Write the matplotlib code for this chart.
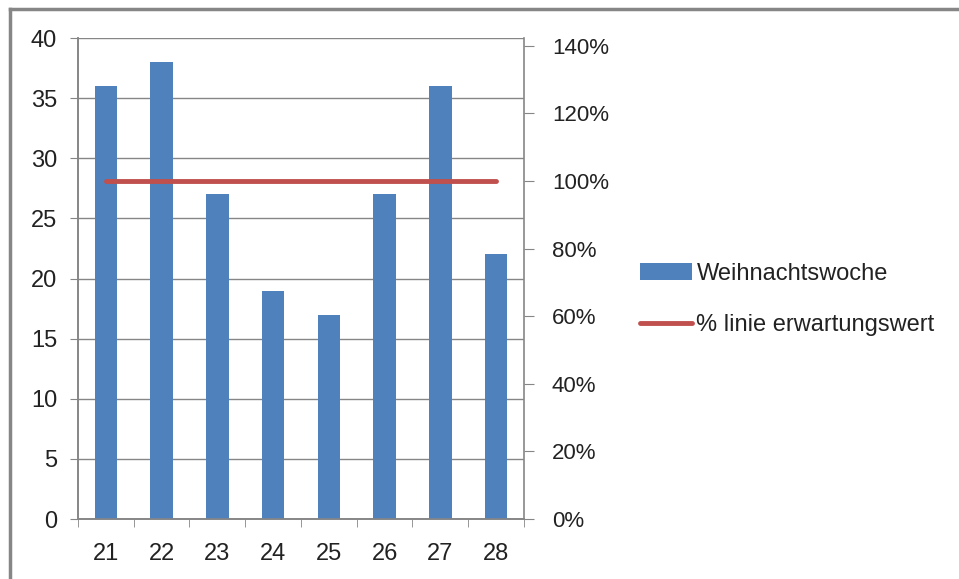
import numpy as np
import matplotlib
matplotlib.use("Agg")
import matplotlib.pyplot as plt
from matplotlib.lines import Line2D
from matplotlib.ticker import PercentFormatter

weeks = ["21", "22", "23", "24", "25", "26", "27", "28"]
weihnachtswoche = [36, 38, 27, 19, 17, 27, 36, 22]
erwartungswert = [1.0, 1.0, 1.0, 1.0, 1.0, 1.0, 1.0, 1.0]

plt.rcParams["font.family"] = ["Liberation Sans", "DejaVu Sans"]
plt.rcParams["font.size"] = 17

grey = "#868686"
text_color = "#222222"

fig = plt.figure(figsize=(9.59, 5.79), dpi=100)
ax = fig.add_axes([0.0813, 0.1036, 0.4651, 0.8307])
ax2 = ax.twinx()

x = np.arange(len(weeks))  # category positions
bars = ax.bar(x, weihnachtswoche, 0.4, color="#4f81bd", zorder=3,
              label="Weihnachtswoche")
line, = ax2.plot(x, erwartungswert, color="#c0504d", linewidth=3.5,
                 solid_capstyle="round", label="% linie erwartungswert")

ax.set_xlim(-0.5, len(weeks) - 0.5)
ax.set_ylim(0, 40)
ax.set_yticks(np.arange(0, 41, 5))
ax.yaxis.grid(True, color=grey, linewidth=1)
ax.set_axisbelow(True)
ax.set_xticks(x)
ax.set_xticklabels(weeks)
# ticks between categories, like Excel
ax.set_xticks(np.arange(-0.5, len(weeks)), minor=True)
ax.tick_params(axis="x", which="major", length=0, pad=17, colors=text_color)
ax.tick_params(axis="x", which="minor", length=6, color=grey, direction="out")
ax.tick_params(axis="y", length=6, color=grey, direction="out", pad=9,
               labelcolor=text_color)

ax2.set_ylim(0, 1.423)
ax2.set_yticks(np.arange(0, 1.41, 0.2))
ax2.yaxis.set_major_formatter(PercentFormatter(1.0, decimals=0))
ax2.tick_params(axis="y", length=7, color=grey, direction="out", pad=13,
                labelsize=16, labelcolor=text_color)

for a in (ax, ax2):
    a.spines["top"].set_visible(False)
    for s in ("left", "right", "bottom"):
        a.spines[s].set_color(grey)
        a.spines[s].set_linewidth(1.2)
ax.spines["right"].set_visible(False)

fig.legend([bars, line], ["Weihnachtswoche", "% linie erwartungswert"],
           loc="center left", bbox_to_anchor=(0.645, 0.483), frameon=False,
           handlelength=2.2, handletextpad=0.2, labelspacing=1.25,
           fontsize=17, labelcolor=text_color)

# outer chart frame
fig.add_artist(Line2D([0.0105, 1.0], [0.9845, 0.9845], color=grey, linewidth=2.5,
                      transform=fig.transFigure))
fig.add_artist(Line2D([0.0105, 0.0105], [0.0, 0.9845], color=grey, linewidth=2.5,
                      transform=fig.transFigure))

fig.savefig("out.png", dpi=100)
